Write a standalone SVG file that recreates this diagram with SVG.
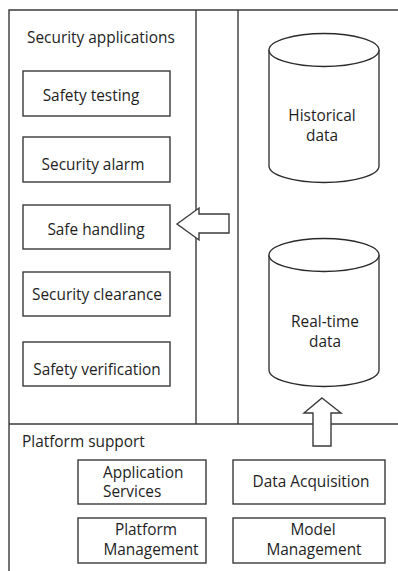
<svg xmlns="http://www.w3.org/2000/svg" width="398" height="571" viewBox="0 0 398 571">
  <style>
    .frame { fill: none; stroke: #3a3a3a; stroke-width: 1.4; }
    .box { fill: #ffffff; stroke: #3a3a3a; stroke-width: 1.4; }
    .cyl { fill: #ffffff; stroke: #2a2a2a; stroke-width: 1.3; }
    .arrow { fill: #ffffff; stroke: #3a3a3a; stroke-width: 1.4; stroke-linejoin: miter; }
    text { font-family: "Open Sans", "Noto Sans", "DejaVu Sans", sans-serif; font-size: 15.4px; fill: #1e1e1e; }
    .c { text-anchor: middle; }
  </style>

  <rect x="0" y="0" width="398" height="571" fill="#ffffff"/>

  <!-- outer frame and panel dividers -->
  <g id="frame">
    <path class="frame" d="M9,571 V10 H398"/>
    <path class="frame" d="M196,10 V424"/>
    <path class="frame" d="M238,10 V424"/>
    <path class="frame" d="M9,424 H398"/>
  </g>

  <!-- security application panel -->
  <g id="security-applications">
    <text x="27" y="43">Security applications</text>
  </g>
  <g id="safety-testing">
    <rect class="box" x="23" y="71" width="147" height="45"/>
    <text class="c" x="91" y="101">Safety testing</text>
  </g>
  <g id="security-alarm">
    <rect class="box" x="23" y="137" width="147" height="45"/>
    <text class="c" x="93" y="170">Security alarm</text>
  </g>
  <g id="safe-handling">
    <rect class="box" x="23" y="205" width="147" height="44"/>
    <text class="c" x="96" y="235">Safe handling</text>
  </g>
  <g id="security-clearance">
    <rect class="box" x="23" y="272" width="147" height="44"/>
    <text class="c" x="97" y="300">Security clearance</text>
  </g>
  <g id="safety-verification">
    <rect class="box" x="23" y="342" width="147" height="44"/>
    <text class="c" x="97" y="375">Safety verification</text>
  </g>

  <!-- data stores -->
  <g id="historical-data">
    <path class="cyl" d="M269,50 V166 A55,16.5 0 0 0 379,166 V50"/>
    <ellipse class="cyl" cx="324" cy="50" rx="55" ry="16.5"/>
    <text class="c" x="322" y="121">Historical</text>
    <text class="c" x="322" y="141">data</text>
  </g>
  <g id="real-time-data">
    <path class="cyl" d="M269,255 V370 A55,16.5 0 0 0 379,370 V255"/>
    <ellipse class="cyl" cx="324" cy="255" rx="55" ry="16.5"/>
    <text class="c" x="325" y="327">Real-time</text>
    <text class="c" x="325" y="347">data</text>
  </g>

  <!-- platform support panel -->
  <g id="platform-support">
    <text x="22" y="447">Platform support</text>
  </g>
  <g id="application-services">
    <rect class="box" x="78" y="460" width="128" height="44"/>
    <text x="103" y="478">Application</text>
    <text x="103" y="497">Services</text>
  </g>
  <g id="platform-management">
    <rect class="box" x="78" y="518" width="128" height="45"/>
    <text class="c" x="146" y="535">Platform</text>
    <text class="c" x="151" y="555">Management</text>
  </g>
  <g id="data-acquisition">
    <rect class="box" x="233" y="460" width="152" height="44"/>
    <text class="c" x="311" y="487">Data Acquisition</text>
  </g>
  <g id="model-management">
    <rect class="box" x="233" y="518" width="152" height="45"/>
    <text class="c" x="313" y="535">Model</text>
    <text class="c" x="314" y="555">Management</text>
  </g>

  <!-- block arrows -->
  <g id="connectors">
    <path class="arrow" d="M177,224 L199,208 V214 H229 V233 H199 V240 Z"/>
    <path class="arrow" d="M322,398 L341,413 H331 V446 H313 V413 H304 Z"/>
  </g>
</svg>
